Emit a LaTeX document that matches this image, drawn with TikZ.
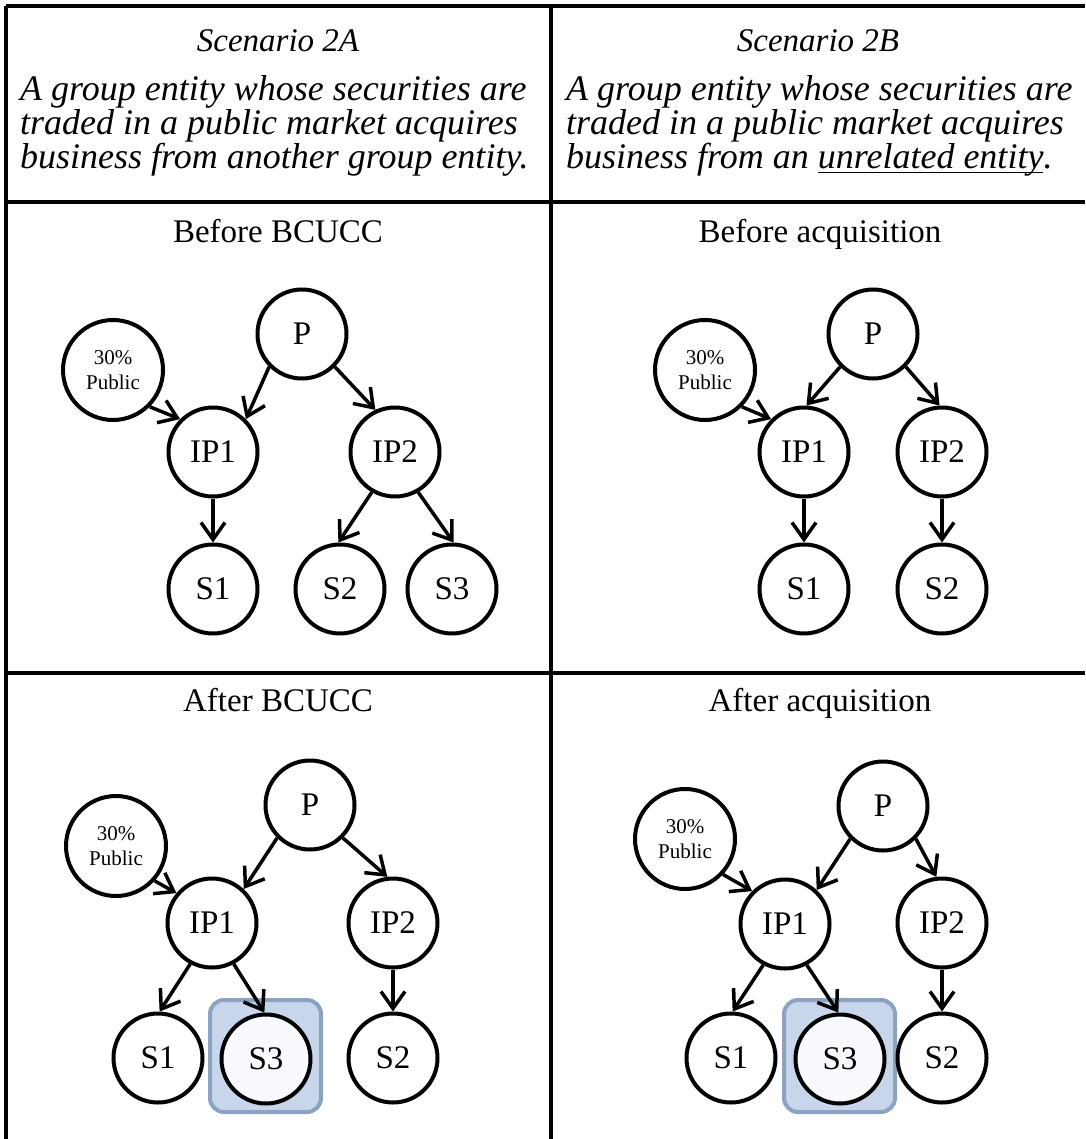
\documentclass[tikz,border=0pt]{standalone}
\usepackage{fontspec}
\setmainfont{Liberation Serif}
\usetikzlibrary{arrows.meta}
\definecolor{hlfill}{RGB}{199,214,235}
\definecolor{hlborder}{RGB}{140,162,195}
\definecolor{hlin}{RGB}{248,250,253}
\newcommand{\myuline}[1]{\leavevmode\setbox0\hbox{#1}\rlap{\vrule width\wd0 height -2.6pt depth 4.4pt}\box0}
\begin{document}
\begin{tikzpicture}[x=1pt,y=-1pt,
 ent/.style={circle, draw, line width=4pt, minimum size=89pt, inner sep=0pt, fill=white, font=\fontsize{33}{36}\selectfont},
 pub/.style={ent, minimum size=100pt, align=center, font=\fontsize{21}{25}\selectfont},
 arr/.style={line width=3.5pt, -{Straight Barb[length=17pt,width=24pt]}},
 grid/.style={line width=4pt},
 hdr/.style={font=\fontsize{36}{36}\selectfont\itshape, anchor=base west, inner sep=0pt},
 scen/.style={font=\fontsize{33}{33}\selectfont\itshape, anchor=base, inner sep=0pt},
 ttl/.style={font=\fontsize{33}{33}\selectfont, anchor=base, inner sep=0pt},
 hlbox/.style={draw=hlborder, fill=hlfill, line width=4pt, rounded corners=14pt, minimum width=111pt, minimum height=112pt, inner sep=0pt}
]
\fill[white] (0,0) rectangle (1085,1139);
\useasboundingbox (0,0) rectangle (1085,1139);
% table
\draw[grid] (6,6) -- (1085,6);
\draw[grid] (6,6) -- (6,1139);
\draw[grid] (551,6) -- (551,1139);
\draw[grid] (6,202) -- (1085,202);
\draw[grid] (6,673) -- (1085,673);
% headers
\node[scen] (scA) at (278,52) {Scenario 2A};
\node[hdr] (hA1) at (20,101) {A group entity whose securities are};
\node[hdr] (hA2) at (20,135) {traded in a public market acquires};
\node[hdr] (hA3) at (20,169) {business from another group entity.};
\node[scen] (scB) at (818,52) {Scenario 2B};
\node[hdr] (hB1) at (566,101) {A group entity whose securities are};
\node[hdr] (hB2) at (566,135) {traded in a public market acquires};
\node[hdr] (hB3) at (566,169) {business from an \myuline{unrelated entity}.};
% titles
\node[ttl] (t1) at (278,243) {Before BCUCC};
\node[ttl] (t2) at (820,243) {Before acquisition};
\node[ttl] (t3) at (278,711) {After BCUCC};
\node[ttl] (t4) at (820,711) {After acquisition};
% panel 1
\node[ent] (aP) at (302,334) {P};
\node[pub] (aPub) at (113,370) {30\%\\Public};
\node[ent] (aIP1) at (213,452) {IP1};
\node[ent] (aIP2) at (395,452) {IP2};
\node[ent] (aS1) at (213,589) {S1};
\node[ent] (aS2) at (340,589) {S2};
\node[ent] (aS3) at (452,589) {S3};
\draw[arr] (aPub.-45) -- (aIP1.135);
\draw[arr] (aP.-135) -- (aIP1.45);
\draw[arr] (aP.-45) -- (aIP2.115);
\draw[arr] (aIP1.south) -- (aS1.north);
\draw[arr] (aIP2.-120) -- (aS2.92);
\draw[arr] (aIP2.-60) -- (aS3.88);
% panel 2
\node[ent] (bP) at (873,334) {P};
\node[pub] (bPub) at (705,370) {30\%\\Public};
\node[ent] (bIP1) at (804,452) {IP1};
\node[ent] (bIP2) at (942,452) {IP2};
\node[ent] (bS1) at (804,589) {S1};
\node[ent] (bS2) at (942,589) {S2};
\draw[arr] (bPub.-45) -- (bIP1.135);
\draw[arr] (bP.-135) -- (bIP1.87);
\draw[arr] (bP.-45) -- (bIP2.93);
\draw[arr] (bIP1.south) -- (bS1.north);
\draw[arr] (bIP2.south) -- (bS2.north);
% panel 3
\node[hlbox] (cBox) at (265.5,1056) {};
\node[ent] (cP) at (310,805) {P};
\node[pub] (cPub) at (116,846) {30\%\\Public};
\node[ent] (cIP1) at (212,923) {IP1};
\node[ent] (cIP2) at (393,923) {IP2};
\node[ent] (cS1) at (158,1058) {S1};
\node[ent, fill=hlin] (cS3) at (266,1059) {S3};
\node[ent] (cS2) at (393,1058) {S2};
\draw[arr] (cPub.-42) -- (cIP1.140);
\draw[arr] (cP.-135) -- (cIP1.47);
\draw[arr] (cP.-45) -- (cIP2.97);
\draw[arr] (cIP1.-118) -- (cS1.88);
\draw[arr] (cIP1.-62) -- (cS3.92);
\draw[arr] (cIP2.south) -- (cS2.north);
% panel 4
\node[hlbox] (dBox) at (839.5,1056) {};
\node[ent] (dP) at (883,806) {P};
\node[pub] (dPub) at (685,839) {30\%\\Public};
\node[ent] (dIP1) at (785,924) {IP1};
\node[ent] (dIP2) at (942,923) {IP2};
\node[ent] (dS1) at (731,1058) {S1};
\node[ent, fill=hlin] (dS3) at (840,1059) {S3};
\node[ent] (dS2) at (942,1058) {S2};
\draw[arr] (dPub.-43) -- (dIP1.135);
\draw[arr] (dP.-135) -- (dIP1.47);
\draw[arr] (dP.-45) -- (dIP2.97);
\draw[arr] (dIP1.-118) -- (dS1.88);
\draw[arr] (dIP1.-62) -- (dS3.92);
\draw[arr] (dIP2.south) -- (dS2.north);
\end{tikzpicture}
\end{document}
